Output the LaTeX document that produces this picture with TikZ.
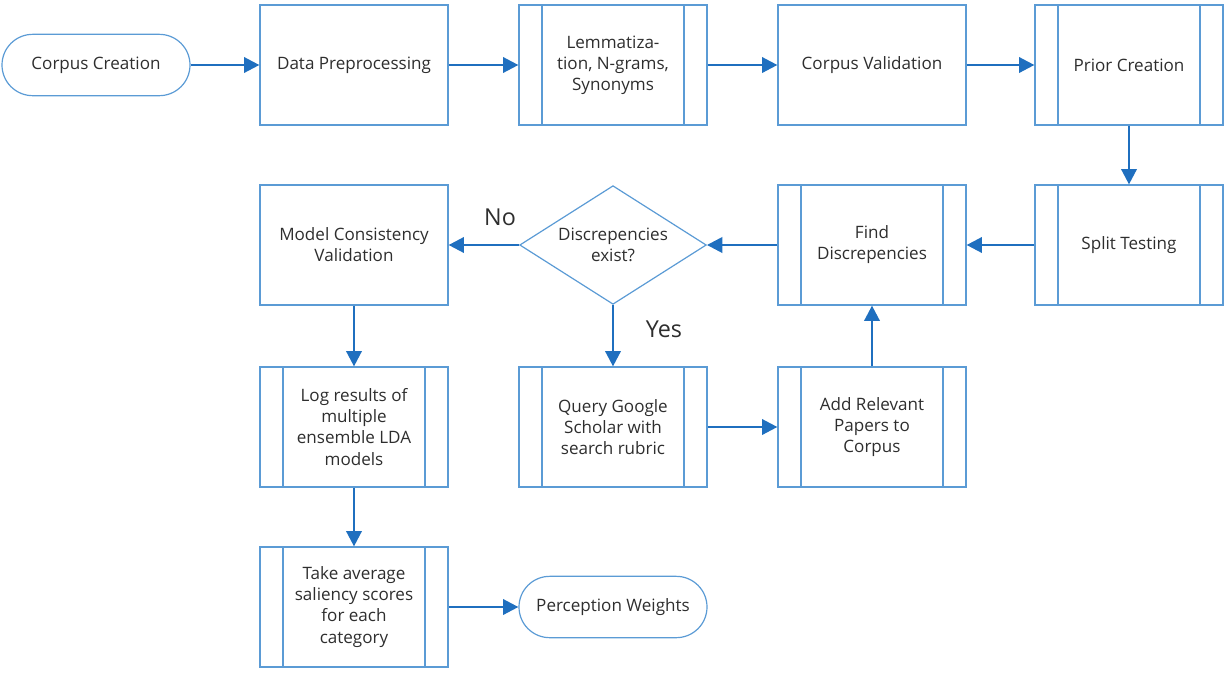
\documentclass[tikz,border=0pt]{standalone}
\usepackage{fontspec}
\setmainfont{Open Sans}
\usetikzlibrary{shapes.geometric,shapes.misc,arrows.meta}
\definecolor{boxblue}{HTML}{5B9BD5}
\definecolor{arrowblue}{HTML}{1F6FBF}
\definecolor{txt}{HTML}{2E2E2E}
\begin{document}
\begin{tikzpicture}[x=0.75pt,y=-0.75pt,
  every node/.style={text=txt,font=\fontsize{12.8}{15.8}\selectfont,align=center},
  proc/.style={draw=boxblue,line width=0.9pt,rectangle,inner sep=0pt,
    minimum width=141pt,minimum height=90pt},
  subproc/.style={proc,path picture={
    \draw[boxblue,line width=0.9pt]
      ([xshift=17.25pt]path picture bounding box.north west) --
      ([xshift=17.25pt]path picture bounding box.south west)
      ([xshift=-17.25pt]path picture bounding box.north east) --
      ([xshift=-17.25pt]path picture bounding box.south east);}},
  term/.style={draw=boxblue,line width=0.9pt,rounded rectangle,inner sep=0pt,
    minimum width=141pt,minimum height=46pt},
  decision/.style={draw=boxblue,line width=0.9pt,diamond,aspect=1.57,inner sep=0pt,
    minimum width=140pt,minimum height=89pt},
  flow/.style={draw=arrowblue,line width=1.9pt,
    -{Triangle[length=11.5pt,width=11.5pt]}},
  answer/.style={font=\fontsize{17.5}{20}\selectfont}
]
\useasboundingbox (0,0) rectangle (1225,676);

% top row
\node[term]    (cc)  at (96,65)    {Corpus Creation};
\node[proc]    (dp)  at (354,65)   {Data Preprocessing};
\node[subproc] (lem) at (613,65)   {Lemmatiza-\\tion, N-grams,\\Synonyms};
\node[proc]    (cv)  at (872,65)   {Corpus Validation};
\node[subproc] (pc)  at (1129,65)  {Prior Creation};

% second row
\node[proc]     (mcv) at (354,245)  {Model Consistency\\Validation};
\node[decision] (dis) at (613,245)  {Discrepencies\\exist?};
\node[subproc]  (fd)  at (872,245)  {Find\\Discrepencies};
\node[subproc]  (st)  at (1129,245) {Split Testing};

% third row
\node[subproc] (log) at (354,427) {Log results of\\multiple\\ensemble LDA\\models};
\node[subproc] (qg)  at (613,427) {Query Google\\Scholar with\\search rubric};
\node[subproc] (ar)  at (872,427) {Add Relevant\\Papers to\\Corpus};

% bottom row
\node[subproc] (ta) at (354,607) {Take average\\saliency scores\\for each\\category};
\node[term]    (pw) at (613,607) {Perception Weights};

% branch labels
\node[answer] (no)  at (500,217) {No};
\node[answer] (yes) at (664,329) {Yes};

% connectors
\draw[flow] (cc.east) -- (dp.west);
\draw[flow] (dp) -- (lem);
\draw[flow] (lem) -- (cv);
\draw[flow] (cv) -- (pc);
\draw[flow] (pc) -- (st);
\draw[flow] (st) -- (fd);
\draw[flow] (fd) -- (dis);
\draw[flow] (dis) -- (mcv);
\draw[flow] (dis) -- (qg);
\draw[flow] (qg) -- (ar);
\draw[flow] (ar) -- (fd);
\draw[flow] (mcv) -- (log);
\draw[flow] (log) -- (ta);
\draw[flow] (ta.east) -- (pw.west);
\end{tikzpicture}
\end{document}
